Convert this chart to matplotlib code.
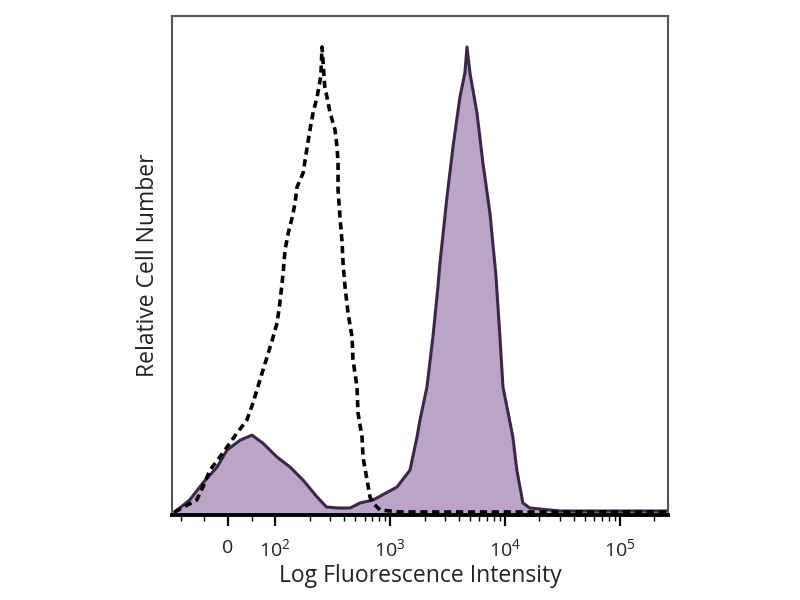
import numpy as np
import matplotlib
matplotlib.use("Agg")
import matplotlib.pyplot as plt
from matplotlib.ticker import FixedLocator

# fluorescence intensity (biexponential-like display) and relative counts
ctrl_x = [-113, -66, -53, -38, -17, -2, 19, 40, 53, 68, 83, 94, 104, 110, 117, 122, 130,
          141, 149, 155, 175, 190, 201, 214, 232, 250, 256, 270, 301, 332, 346, 353,
          353, 367, 383, 390, 406, 431, 467, 476, 516, 527, 571, 582, 631, 670, 711,
          819, 1222, 5000, 20000, 80000, 263000]
ctrl_y = [0.6, 3.0, 5.6, 9.0, 11.6, 13.6, 16.4, 19.0, 22.4, 27.1, 31.7, 35.1, 38.5, 42.5,
          48.1, 53.1, 56.5, 59.7, 62.5, 65.7, 68.5, 73.7, 77.2, 80.6, 83.8, 88.0, 93.8,
          86.0, 80.6, 77.2, 73.7, 70.5, 65.1, 59.7, 54.5, 50.5, 45.7, 40.5, 35.7, 31.1,
          25.7, 20.4, 15.6, 11.6, 7.0, 3.6, 2.4, 1.0, 0.6, 0.6, 0.6, 0.6, 0.6]

stain_x = [-113, -102, -81, -53, -23, -2, 26, 51, 74, 104, 135, 175, 232, 280, 353, 449,
           548, 711, 1151, 1222, 1493, 1717, 1823, 2098, 2364, 2613, 2721, 3133, 3531,
           4064, 4487, 4677, 4966, 5712, 6442, 7413, 8350, 9057, 9618, 11740, 12710,
           14350, 16490, 30000, 263000]
stain_y = [0.6, 1.4, 3.0, 6.4, 9.6, 13.0, 15.0, 16.0, 14.4, 11.6, 9.6, 7.0, 3.6, 1.6,
           1.4, 1.4, 2.4, 3.0, 5.6, 6.4, 9.0, 15.6, 19.0, 25.7, 35.7, 45.7, 50.5, 63.7,
           73.7, 83.8, 88.6, 93.8, 88.6, 80.6, 70.5, 60.5, 48.1, 35.7, 25.7, 15.6, 9.0,
           2.4, 1.4, 0.8, 0.8]

tick_vals = [0, 1e2, 1e3, 1e4, 1e5]
tick_labels = ["0", r"$10^2$", r"$10^3$", r"$10^4$", r"$10^5$"]

plt.rcParams["font.family"] = ["Open Sans", "DejaVu Sans"]
plt.rcParams["mathtext.fontset"] = "custom"
plt.rcParams["mathtext.rm"] = "Open Sans"

fig = plt.figure(figsize=(8, 6), dpi=100)
ax = fig.add_axes([0.215, 0.1417, 0.62, 0.8316])

ax.fill_between(stain_x, stain_y, 0, color="#bca4c9", lw=0)
ax.plot(stain_x, stain_y, color="#3b2846", lw=2.2)
ax.plot(ctrl_x, ctrl_y, color="black", lw=2.6, ls=(0, (2.0, 1.3)))

ax.set_xscale("symlog", linthresh=100, linscale=0.37)
ax.set_xlim(-119, 2.63e5)
ax.set_ylim(0, 100)

minor = [-100, -50, 50]
for d in [1e2, 1e3, 1e4]:
    minor += [d * k for k in range(2, 10)]
minor += [2e5]
ax.xaxis.set_major_locator(FixedLocator(tick_vals))
ax.xaxis.set_minor_locator(FixedLocator(minor))
ax.set_xticklabels(tick_labels, fontsize=14, color="#222222")
ax.tick_params(axis="x", which="major", direction="out", length=8, width=1.6, pad=9)
ax.tick_params(axis="x", which="minor", direction="out", length=4, width=1.0)
ax.set_yticks([])

for s in ["left", "top", "right"]:
    ax.spines[s].set_color("#555555")
    ax.spines[s].set_linewidth(1.5)
ax.spines["bottom"].set_linewidth(2.8)
ax.spines["bottom"].set_color("black")

ax.set_xlabel("Log Fluorescence Intensity", fontsize=16.5, color="#222222", labelpad=2)
ax.set_ylabel("Relative Cell Number", fontsize=16.5, color="#222222", labelpad=9)

fig.savefig("out.png", dpi=100)
